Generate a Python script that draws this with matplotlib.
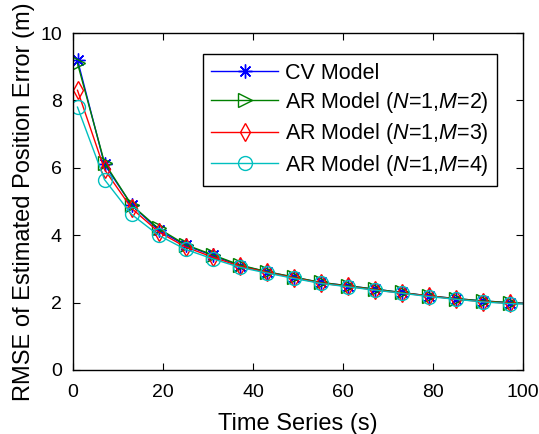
import numpy as np
import matplotlib
import matplotlib.pyplot as plt

matplotlib.use('Agg')

plt.rcParams['font.family'] = 'Liberation Sans'
plt.rcParams['mathtext.fontset'] = 'custom'
plt.rcParams['mathtext.it'] = 'Liberation Sans:italic'
plt.rcParams['mathtext.rm'] = 'Liberation Sans'

# time points (markers every 6 s, last point at 100 s closes the line)
t = [1, 7, 13, 19, 25, 31, 37, 43, 49, 55, 61, 67, 73, 79, 85, 91, 97, 100]

cv_model = [9.2, 6.1, 4.9, 4.15, 3.7, 3.4, 3.1, 2.92, 2.75, 2.6, 2.5, 2.4, 2.3, 2.2, 2.12, 2.05, 2.0, 1.98]
ar_m2 = [9.1, 6.15, 4.9, 4.2, 3.72, 3.42, 3.12, 2.92, 2.76, 2.6, 2.5, 2.4, 2.3, 2.2, 2.12, 2.05, 2.0, 1.98]
ar_m3 = [8.3, 5.95, 4.8, 4.1, 3.65, 3.35, 3.08, 2.9, 2.74, 2.58, 2.48, 2.38, 2.28, 2.2, 2.1, 2.03, 1.98, 1.97]
ar_m4 = [7.8, 5.65, 4.62, 4.0, 3.58, 3.3, 3.05, 2.88, 2.72, 2.57, 2.47, 2.37, 2.28, 2.18, 2.1, 2.02, 1.97, 1.96]

labels = ['CV Model',
          r'AR Model ($\it{N}$=1,$\it{M}$=2)',
          r'AR Model ($\it{N}$=1,$\it{M}$=3)',
          r'AR Model ($\it{N}$=1,$\it{M}$=4)']

fig = plt.figure(figsize=(5.39, 4.34), dpi=100)
ax = fig.add_axes([73 / 539, 1 - 370 / 434, 450 / 539, 337 / 434])

marks = list(range(len(t) - 1))
ax.plot(t, cv_model, color='b', marker=(8, 2, 0), markersize=10, lw=1, markevery=marks, label=labels[0])
ax.plot(t, ar_m2, color=(0, 0.5, 0), marker='>', markersize=10, mfc='none', lw=1, markevery=marks, label=labels[1])
ax.plot(t, ar_m3, color='r', marker='d', markersize=9, mfc='none', lw=1, markevery=marks, label=labels[2])
ax.plot(t, ar_m4, color=(0, 0.75, 0.75), marker='o', markersize=10, mfc='none', lw=1, markevery=marks, label=labels[3])

ax.set_xlim(0, 100)
ax.set_ylim(0, 10)
ax.set_xticks(np.arange(0, 101, 20))
ax.set_yticks(np.arange(0, 11, 2))
ax.tick_params(direction='in', top=True, right=True, labelsize=14, length=5, pad=8)
ax.tick_params(axis='x', pad=10)
for s in ax.spines.values():
    s.set_linewidth(1)

ax.set_xlabel('Time Series (s)', fontsize=17, labelpad=9)
ax.set_ylabel('RMSE of Estimated Position Error (m)', fontsize=17, labelpad=4)

leg = ax.legend(loc='upper right', bbox_to_anchor=(0.942, 0.938), borderaxespad=0, fontsize=15.5,
                fancybox=False, framealpha=1, edgecolor='k', handlelength=3.1, borderpad=0.4,
                labelspacing=0.3, handletextpad=0.3)
leg.get_frame().set_linewidth(1)

plt.savefig('out.png')
plt.close()
